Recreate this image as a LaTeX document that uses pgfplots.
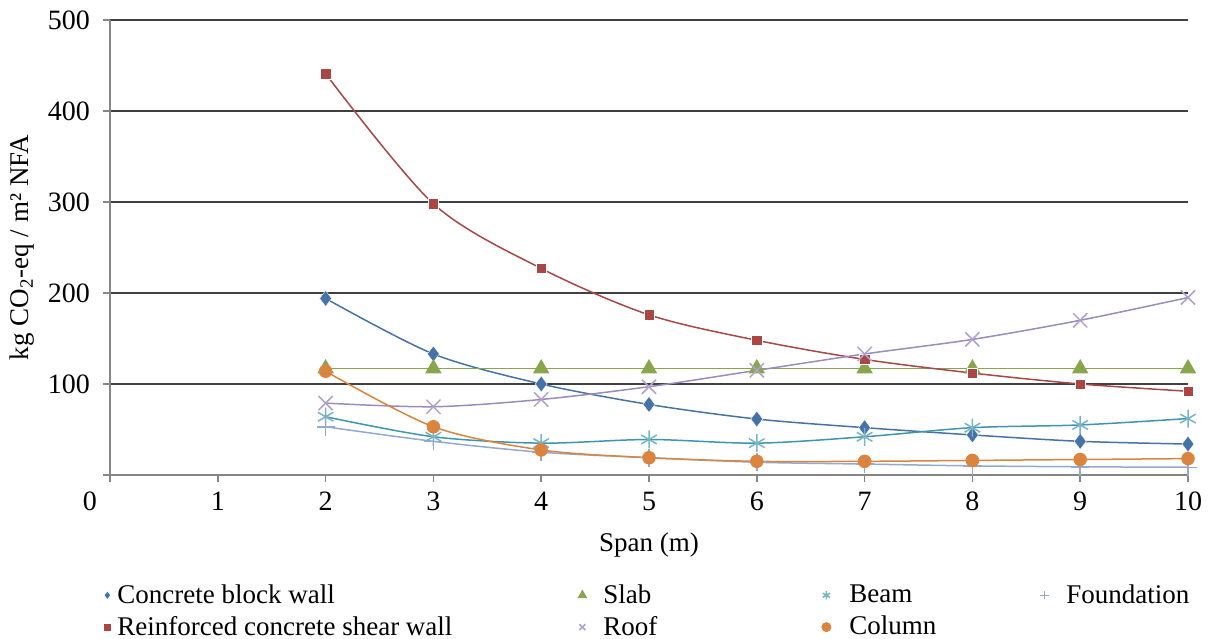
\documentclass[border=0pt]{standalone}
\usepackage{fontspec}
\setmainfont{Liberation Serif}
\usepackage{pgfplots}
\pgfplotsset{compat=1.18}
\definecolor{cbw}{HTML}{4572A7}
\definecolor{rcsw}{HTML}{AA4643}
\definecolor{slab}{HTML}{89A54E}
\definecolor{beam}{HTML}{3D96AE}
\definecolor{roof}{HTML}{9B8BBF}
\definecolor{column}{HTML}{DB843D}
\definecolor{found}{HTML}{93A9CF}
\definecolor{axgray}{HTML}{868686}
\newcommand{\F}{\fontsize{13.5}{16}\selectfont}
\newcommand{\T}{\fontsize{14}{16}\selectfont}
\begin{document}
\begin{tikzpicture}
\begin{axis}[
  name=ax,
  scale only axis,
  width=539pt, height=227.5pt,
  xmin=0, xmax=10, ymin=0, ymax=500,
  xtick={1,...,10},
  extra x ticks={0},
  extra x tick style={grid=none, tick label style={xshift=-10pt}},
  ytick={0,100,...,500},
  yticklabels={,100,200,300,400,500},
  ymajorgrids,
  grid style={black!75, line width=0.6pt},
  axis x line*=bottom, axis y line*=left,
  axis line style={-, axgray, line width=0.8pt},
  tick style={axgray, line width=0.8pt},
  tick align=outside,
  major tick length=3.5pt,
  /pgf/number format/assume math mode=true,
  tick label style={font=\T},
  xticklabel style={yshift=-1.5pt},
  yticklabel style={xshift=-3pt},
  xlabel={Span (m)},
  ylabel={kg CO\textsubscript{2}-eq / m² NFA},
  every axis x label/.style={at={(axis description cs:0.5,0)}, anchor=center, yshift=-35pt, font=\F},
  every axis y label/.style={at={(axis description cs:-0.0816,0.5)}, anchor=center, rotate=90, font=\F},
  legend columns=4,
  legend style={draw=none, fill=none, font=\F, at={(rel axis cs:0,0)}, anchor=north west,
    xshift=-7.5pt, yshift=-52.5pt, nodes={inner sep=0pt}, row sep=5pt},
  /tikz/every odd column/.style={column sep=2pt},
  legend image code/.code={\path[draw=none, fill=none] (-3pt,-3pt) rectangle (3pt,3pt); \path[#1, mark size=2.1pt] plot coordinates {(0pt,0pt)};},
  every axis plot/.append style={line width=0.75pt, smooth, tension=0.5},
]
\addplot[cbw, mark=diamond*, mark size=4pt, mark options={fill=cbw, draw=white, line width=0.2pt}] coordinates {
(2,194) (3,133) (4,100) (5,77.5) (6,61.5) (7,52) (8,44) (9,37) (10,34)};
\addlegendentry{\makebox[229.5pt][l]{Concrete block wall}}
\addplot[slab, mark=triangle*, mark size=4pt, mark options={fill=slab, draw=slab}] coordinates {
(2,117) (3,117) (4,117) (5,117) (6,117) (7,117) (8,117) (9,117) (10,117)};
\addlegendentry{\makebox[114pt][l]{\hspace{5.5pt}Slab}}
\addplot[beam, mark=asterisk, mark size=4.5pt, mark options={draw=beam!70!white}] coordinates {
(2,64) (3,42) (4,35) (5,39) (6,35) (7,42) (8,52) (9,55) (10,62)};
\addlegendentry{\makebox[101pt][l]{\hspace{6.5pt}Beam}}
\addplot[found, mark=+, mark size=4.5pt, mark options={draw=found}] coordinates {
(2,53) (3,37) (4,25) (5,19) (6,14) (7,12) (8,10) (9,9) (10,8.5)};
\addlegendentry{\hspace{6pt}Foundation}
\addplot[rcsw, mark=square*, mark size=2.6pt, mark options={fill=rcsw, draw=white, line width=0.2pt}] coordinates {
(2,441) (3,298) (4,227) (5,176) (6,148) (7,127) (8,112) (9,100) (10,92)};
\addlegendentry{\makebox[229.5pt][l]{Reinforced concrete shear wall}}
\addplot[roof, mark=x, mark size=5pt, mark options={draw=roof!80!white}] coordinates {
(2,79) (3,75) (4,83) (5,97) (6,115) (7,133) (8,149) (9,170) (10,195)};
\addlegendentry{\makebox[114pt][l]{\hspace{5.5pt}Roof}}
\addplot[column, mark=*, mark size=3pt, mark options={fill=column, draw=column}] coordinates {
(2,114) (3,53) (4,27.5) (5,19) (6,15) (7,15) (8,16) (9,17) (10,18)};
\addlegendentry{\makebox[101pt][l]{\hspace{6.5pt}Column}}
\end{axis}
\pgfresetboundingbox
\path ([xshift=-55pt,yshift=-82pt]ax.south west) rectangle ([xshift=11pt,yshift=10pt]ax.north east);
\end{tikzpicture}
\end{document}
